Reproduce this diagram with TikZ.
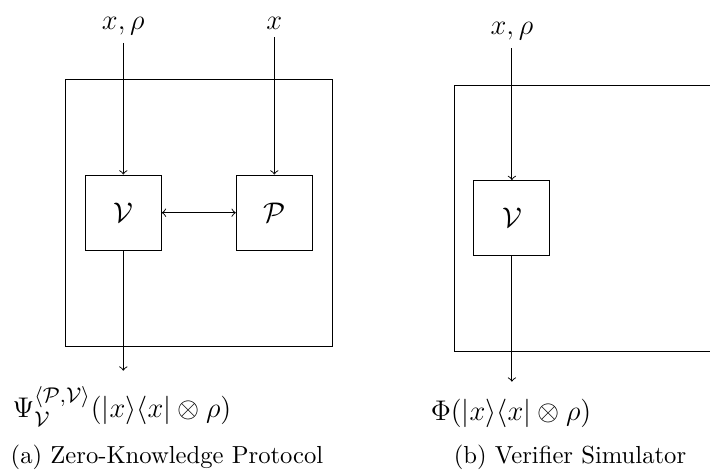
\documentclass[tikz,border=0pt]{standalone}
\begin{document}
\begin{tikzpicture}[x=0.422pt,y=-0.422pt,
  lab/.style={font=\fontsize{12.3}{14}\selectfont},
  captext/.style={font=\fontsize{10.4}{12}\selectfont},
  agent/.style={draw, inner sep=0pt, minimum width=32.1pt, minimum height=31.8pt, font=\fontsize{12.3}{14}\selectfont},
  frame/.style={draw, inner sep=0pt, minimum width=112.3pt, minimum height=112.3pt}]
\useasboundingbox (0,0) rectangle (710,473);
\clip (0,0) rectangle (710,473);
% (a) protocol
\node[frame] (boxL) at (199,213) {};
\node[agent] (VL) at (123.3,212.7) {$\mathcal{V}$};
\node[agent] (PL) at (274.3,212.7) {$\mathcal{P}$};
\node[lab, anchor=base] (inL) at (123.3,29) {$x,\rho$};
\node[lab, anchor=base] (inP) at (274.3,29) {$x$};
\coordinate (outL) at (123.3,370.7);
\node[lab, anchor=base] (psi) at (122,417.5) {$\Psi_{\mathcal{V}}^{\langle\mathcal{P},\mathcal{V}\rangle}(|x\rangle\langle x|\otimes\rho)$};
\draw[->] (inL.south) -- (VL.north);
\draw[->] (inP.south) -- (PL.north);
\draw[<->] (VL.east) -- (PL.west);
\draw[->] (VL.south) -- (outL);
\node[captext, anchor=base] (capA) at (167,463) {(a) Zero-Knowledge Protocol};
% (b) simulator
\node[frame] (boxR) at (587.3,218.3) {};
\node[agent] (VR) at (511.9,218.2) {$\mathcal{V}$};
\node[lab, anchor=base] (inR) at (511.9,34.5) {$x,\rho$};
\coordinate (outR) at (511.9,381.7);
\node[lab, anchor=base] (phi) at (511,420.5) {$\Phi(|x\rangle\langle x|\otimes\rho)$};
\draw[->] (inR.south) -- (VR.north);
\draw[->] (VR.south) -- (outR);
\node[captext, anchor=base] (capB) at (570,463) {(b) Verifier Simulator};
\end{tikzpicture}
\end{document}
